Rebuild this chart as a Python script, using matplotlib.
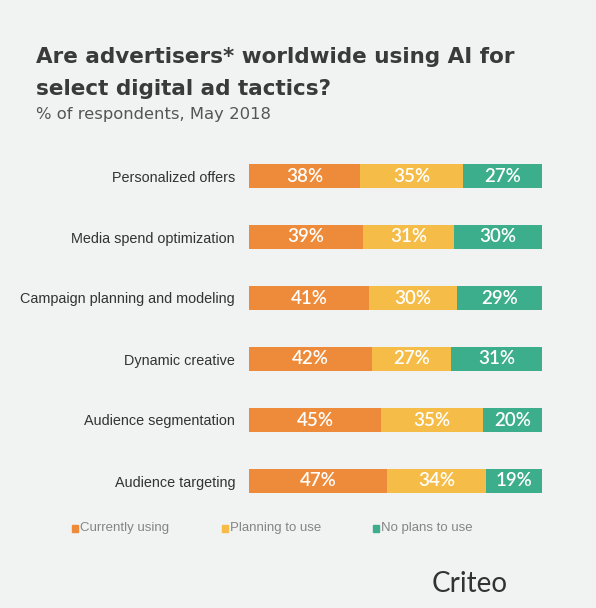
import matplotlib
matplotlib.use("Agg")
import matplotlib.pyplot as plt
import numpy as np

categories = ["Personalized offers", "Media spend optimization",
              "Campaign planning and modeling", "Dynamic creative",
              "Audience segmentation", "Audience targeting"]
currently_using = [38, 39, 41, 42, 45, 47]
planning_to_use = [35, 31, 30, 27, 35, 34]
no_plans = [27, 30, 29, 31, 20, 19]
series_names = ["Currently using", "Planning to use", "No plans to use"]
colors = ["#EE8B3A", "#F5BC47", "#3DAE8B"]

BG = "#F1F2F2"
fig = plt.figure(figsize=(5.96, 6.08), dpi=100, facecolor=BG)
W, H = 596, 608
ax = fig.add_axes([249 / W, 1 - 511.5 / H, 293 / W, (511.5 - 145.5) / H])
ax.set_facecolor(BG)

y = np.arange(len(categories))
series = [currently_using, planning_to_use, no_plans]
left = np.zeros(len(categories))
for vals, col in zip(series, colors):
    vals = np.array(vals, dtype=float)
    ax.barh(y, vals, left=left, height=0.39, color=col, edgecolor="none")
    for yi, l, v in zip(y, left, vals):
        ax.text(l + v / 2, yi, f"{int(v)}%", ha="center", va="center",
                color="white", fontsize=13.5, fontfamily="Lato", fontweight="semibold")
    left += vals

totals = np.array(currently_using) + np.array(planning_to_use) + np.array(no_plans)
ax.set_xlim(0, totals.max())
ax.set_ylim(len(categories) - 0.5, -0.5)
ax.set_xticks([])
ax.set_yticks(y)
ax.set_yticklabels(categories, fontsize=10.4, fontfamily="Liberation Sans", color="#333333")
ax.tick_params(axis="y", length=0, pad=10)
for s in ax.spines.values():
    s.set_visible(False)

# Title & subtitle
fig.text(36 / W, 1 - 63 / H, "Are advertisers* worldwide using AI for", fontsize=15.5,
         fontfamily="DejaVu Sans", fontweight="bold", color="#3A3A3A", va="baseline")
fig.text(36 / W, 1 - 95 / H, "select digital ad tactics?", fontsize=15.5,
         fontfamily="DejaVu Sans", fontweight="bold", color="#3A3A3A", va="baseline")
fig.text(36 / W, 1 - 119 / H, "% of respondents, May 2018", fontsize=11.8,
         fontfamily="DejaVu Sans", color="#555555", va="baseline")

# Legend
leg_x = [72, 222, 373]
for lx, name, col in zip(leg_x, series_names, colors):
    fig.patches.append(plt.Rectangle((lx / W, 1 - 532 / H), 6 / W, 7 / H,
                                     transform=fig.transFigure, color=col))
    fig.text((lx + 8) / W, 1 - 528.5 / H, name, fontsize=9.5,
             fontfamily="Liberation Sans", color="#858585", va="center")

# Logo / watermark
fig.text(470 / W, 1 - 592 / H, "Criteo", fontsize=20, fontfamily="Lato",
         color="#333333", ha="center", va="baseline")

fig.savefig("out.png", dpi=100, facecolor=BG)
